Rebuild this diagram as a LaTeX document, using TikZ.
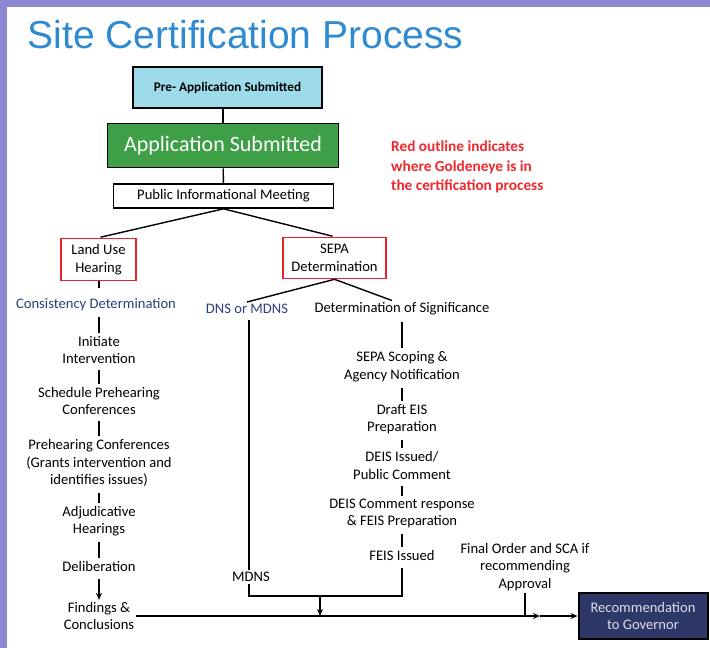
\documentclass[tikz,border=0pt]{standalone}
\usepackage{fontspec}
\setmainfont{Carlito}
\newfontfamily\titlefont{Liberation Sans}
\usetikzlibrary{arrows.meta,positioning}
\definecolor{framepurple}{HTML}{8C87D2}
\definecolor{titleblue}{HTML}{2F8AD0}
\definecolor{preblue}{HTML}{9DDBEA}
\definecolor{appgreen}{HTML}{3E9F46}
\definecolor{outlinered}{HTML}{E8222B}
\definecolor{notered}{HTML}{F0272D}
\definecolor{navytext}{HTML}{2C3E7E}
\definecolor{recnavy}{HTML}{2E3868}
\definecolor{recgray}{HTML}{DCDCE8}
\tikzset{
  txt/.style={align=center,font=\fontsize{14.6}{17.6}\selectfont,inner sep=1.5pt},
  box/.style={draw=black,line width=1.6pt,align=center,inner sep=0pt,font=\fontsize{14.6}{17.6}\selectfont},
  goldbox/.style={box,draw=outlinered},
  flow/.style={-{Stealth[length=7pt,width=6pt]}}
}
\begin{document}
\begin{tikzpicture}[x=1pt,y=-1pt,line width=1.4pt]
\useasboundingbox (0,0) rectangle (710,648);
\fill[framepurple] (0,0) rectangle (710,7);
\fill[framepurple] (0,0) rectangle (7,648);

\node[anchor=base west,inner sep=0pt,text=titleblue,font=\titlefont\fontsize{39}{39}\selectfont] (title) at (27,48) {Site Certification Process};

\node[box,fill=preblue,minimum width=189pt,minimum height=41pt,font=\bfseries\fontsize{13.2}{15}\selectfont] (preapp) at (227.5,87.5) {Pre- Application Submitted};
\node[box,fill=appgreen,text=white,minimum width=231pt,minimum height=44pt,font=\fontsize{22}{26}\selectfont] (appsub) at (223,145.5) {Application Submitted};
\node[box,minimum width=220pt,minimum height=24pt] (pim) at (223.5,196) {Public Informational Meeting};
\node[goldbox,minimum width=75pt,minimum height=42pt] (landuse) at (98.5,259.5) {Land Use\\Hearing};
\node[goldbox,minimum width=103pt,minimum height=41pt] (sepa) at (334.5,258) {SEPA\\Determination};
\node[txt,anchor=west,align=left,text=notered,font=\bfseries\fontsize{15.3}{19.5}\selectfont] (note) at (389,167) {Red outline indicates\\where Goldeneye is in\\the certification process};

\draw (preapp.south -| appsub.north) -- (appsub.north);
\draw (appsub) -- (pim);
\draw[shorten >=2pt] (pim.south) -- (landuse.north);
\draw[shorten >=2pt] (pim.south) -- (sepa.north);

% land use hearing side
\node[txt,text=navytext] (consist) at (96,305) {Consistency Determination};
\node[txt] (initiate) at (99,350) {Initiate\\Intervention};
\node[txt] (schedule) at (99,401) {Schedule Prehearing\\Conferences};
\node[txt] (prehear) at (99,463) {Prehearing Conferences\\(Grants intervention and\\identifies issues)};
\node[txt] (adjud) at (99,521) {Adjudicative\\Hearings};
\node[txt] (delib) at (99,566) {Deliberation};
\node[txt] (findings) at (99,616) {Findings \&\\Conclusions};

\draw (landuse.south -| initiate.north) -- ++(0,7);
\foreach \a/\b in {consist/initiate,initiate/schedule,schedule/prehear,prehear/adjud,adjud/delib}
  \draw[shorten <=4pt,shorten >=1pt] (\b.north |- \a.south) -- (\b.north);
\draw[flow,shorten <=6pt] (delib) -- (findings);

% SEPA side
\node[txt,text=navytext] (dns) at (247,309) {DNS or MDNS};
\node[txt] (dos) at (402,309) {Determination of Significance};
\node[txt] (scoping) at (402,366.5) {SEPA Scoping \&\\Agency Notification};
\node[txt] (drafteis) at (402,419) {Draft EIS\\Preparation};
\node[txt] (deisissued) at (402,465.5) {DEIS Issued/\\Public Comment};
\node[txt] (deiscomment) at (402,513.5) {DEIS Comment response\\\& FEIS Preparation};
\node[txt] (feis) at (402,555) {FEIS Issued};
\node[txt] (mdns) at (251,577) {MDNS};

\draw (sepa.south) -- (dns.north);
\draw (sepa.south) -- ([xshift=-10pt]dos.north);
\foreach \a/\b in {dos/scoping,scoping/drafteis,drafteis/deisissued,deisissued/deiscomment,deiscomment/feis}
  \draw[shorten <=4pt,shorten >=1pt] (\a.south) -- (\b.north);

\coordinate (merge) at (320,596);
\coordinate (hit) at (320,616);
\coordinate (mid) at (540,616);
\draw[shorten <=4pt] ([xshift=2pt]dns.south) -- ([xshift=2pt]dns.south |- mdns.north);
\draw ([xshift=2pt]dns.south |- mdns.south) |- (merge) -| ([yshift=-6pt]feis.south);
\draw[flow] (merge) -- (hit);

% end of the process
\node[txt] (final) at (525,567) {Final Order and SCA if\\recommending\\Approval};
\node[box,draw=black,line width=2pt,fill=recnavy,text=recgray,minimum width=129pt,minimum height=46pt] (rec) at (643,616) {Recommendation\\to Governor};

\draw[flow] (findings.east) -- (mid);
\draw[flow] (mid) -- (rec.west);
\draw (final.south) -- (final.south |- mid);
\end{tikzpicture}
\end{document}
